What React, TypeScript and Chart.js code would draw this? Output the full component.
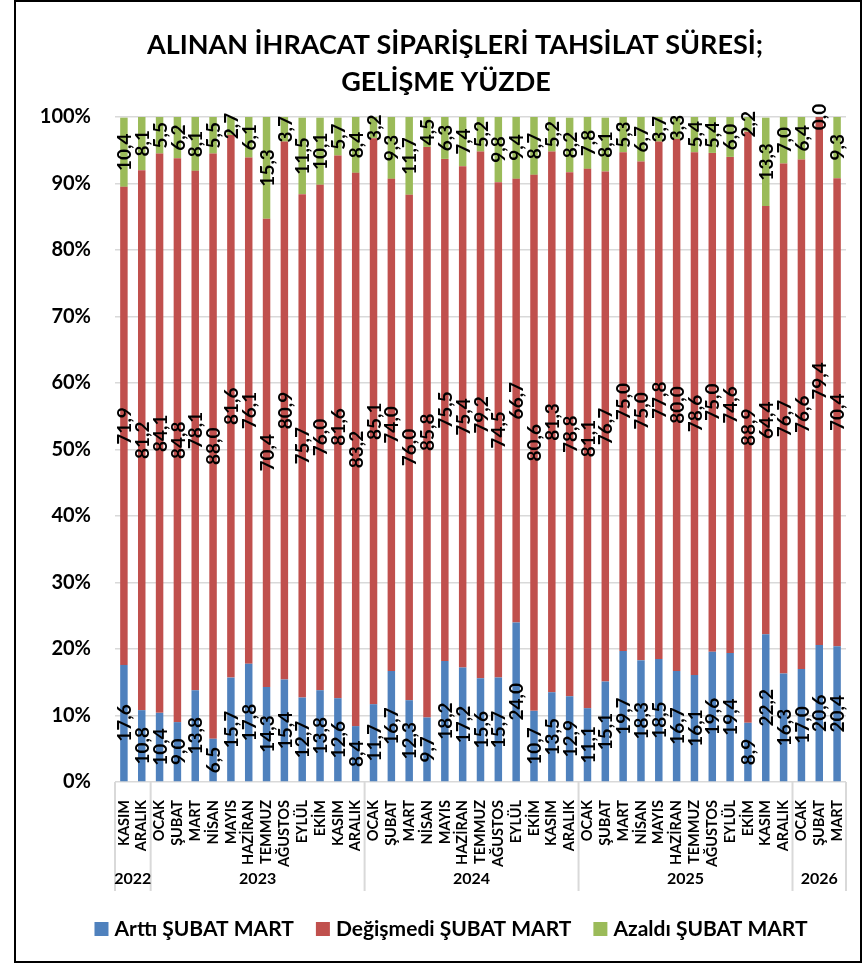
import React, { useEffect, useRef } from "react";
import { Chart, registerables } from "chart.js";

Chart.register(...registerables);

const monthLabels = [
  "KASIM", "ARALIK",
  "OCAK", "ŞUBAT", "MART", "NİSAN", "MAYIS", "HAZİRAN", "TEMMUZ", "AĞUSTOS", "EYLÜL", "EKİM", "KASIM", "ARALIK",
  "OCAK", "ŞUBAT", "MART", "NİSAN", "MAYIS", "HAZİRAN", "TEMMUZ", "AĞUSTOS", "EYLÜL", "EKİM", "KASIM", "ARALIK",
  "OCAK", "ŞUBAT", "MART", "NİSAN", "MAYIS", "HAZİRAN", "TEMMUZ", "AĞUSTOS", "EYLÜL", "EKİM", "KASIM", "ARALIK",
  "OCAK", "ŞUBAT", "MART",
];

const yearLabels = ["2022", "2023", "2024", "2025", "2026"];
const yearCounts = [2, 12, 12, 12, 3];

const arttiValues = [
  17.6, 10.8,
  10.4, 9.0, 13.8, 6.5, 15.7, 17.8, 14.3, 15.4, 12.7, 13.8, 12.6, 8.4,
  11.7, 16.7, 12.3, 9.7, 18.2, 17.2, 15.6, 15.7, 24.0, 10.7, 13.5, 12.9,
  11.1, 15.1, 19.7, 18.3, 18.5, 16.7, 16.1, 19.6, 19.4, 8.9, 22.2, 16.3,
  17.0, 20.6, 20.4,
];

const degismediValues = [
  71.9, 81.2,
  84.1, 84.8, 78.1, 88.0, 81.6, 76.1, 70.4, 80.9, 75.7, 76.0, 81.6, 83.2,
  85.1, 74.0, 76.0, 85.8, 75.5, 75.4, 79.2, 74.5, 66.7, 80.6, 81.3, 78.8,
  81.1, 76.7, 75.0, 75.0, 77.8, 80.0, 78.6, 75.0, 74.6, 88.9, 64.4, 76.7,
  76.6, 79.4, 70.4,
];

const azaldiValues = [
  10.4, 8.1,
  5.5, 6.2, 8.1, 5.5, 2.7, 6.1, 15.3, 3.7, 11.5, 10.1, 5.7, 8.4,
  3.2, 9.3, 11.7, 4.5, 6.3, 7.4, 5.2, 9.8, 9.4, 8.7, 5.2, 8.2,
  7.8, 8.1, 5.3, 6.7, 3.7, 3.3, 5.4, 5.4, 6.0, 2.2, 13.3, 7.0,
  6.4, 0.0, 9.3,
];

const seriesNames = ["Arttı ŞUBAT MART", "Değişmedi ŞUBAT MART", "Azaldı ŞUBAT MART"];
const seriesColors = ["#4F81BD", "#C0504D", "#9BBB59"];
const titleLines = ["ALINAN İHRACAT SİPARİŞLERİ TAHSİLAT SÜRESİ;", "GELİŞME YÜZDE"];

const FONT = "Lato, 'Open Sans', sans-serif";

const overlayPlugin = {
  id: "overlay",
  afterDatasetsDraw(chart: any) {
    const ctx = chart.ctx;
    ctx.save();
    ctx.fillStyle = "#000";
    ctx.font = `bold 19px ${FONT}`;
    ctx.textAlign = "center";
    ctx.textBaseline = "middle";
    chart.data.datasets.forEach((ds: any, i: number) => {
      const meta = chart.getDatasetMeta(i);
      meta.data.forEach((el: any, j: number) => {
        const v = ds.data[j];
        const p = el.getProps(["x", "y", "base"], true);
        const cy = (p.y + p.base) / 2;
        ctx.save();
        ctx.translate(p.x, cy);
        ctx.rotate(-Math.PI / 2);
        ctx.fillText(v.toFixed(1).replace(".", ","), 0, 1);
        ctx.restore();
      });
    });
    ctx.restore();
  },
  afterDraw(chart: any) {
    const ctx = chart.ctx;
    const area = chart.chartArea;
    const xs = chart.scales.x;
    ctx.save();

    // title
    ctx.fillStyle = "#000";
    ctx.textAlign = "center";
    ctx.textBaseline = "alphabetic";
    ctx.font = `bold 27px ${FONT}`;
    ctx.fillText(titleLines[0], 455, 54);
    ctx.fillText(titleLines[1], 446, 91);

    // year groups and separators
    const step = xs.getPixelForValue(1) - xs.getPixelForValue(0);
    const bounds: number[] = [area.left];
    let idx = 0;
    yearCounts.forEach((c) => {
      idx += c;
      bounds.push(idx >= monthLabels.length ? area.right : xs.getPixelForValue(idx) - step / 2);
    });
    ctx.strokeStyle = "#d9d9d9";
    ctx.lineWidth = 2;
    bounds.forEach((b) => {
      ctx.beginPath();
      ctx.moveTo(b, area.bottom);
      ctx.lineTo(b, 891);
      ctx.stroke();
    });
    ctx.font = `bold 16px ${FONT}`;
    ctx.textBaseline = "middle";
    yearLabels.forEach((y, k) => {
      ctx.fillText(y, (bounds[k] + bounds[k + 1]) / 2, 879);
    });

    // legend
    ctx.font = `bold 21px ${FONT}`;
    ctx.textAlign = "left";
    const box = 14;
    const gap = 6;
    const itemGap = 22;
    const widths = seriesNames.map((n) => box + gap + ctx.measureText(n).width);
    const total = widths.reduce((a, b) => a + b, 0) + itemGap * (widths.length - 1);
    let lx = 451 - total / 2;
    seriesNames.forEach((n, k) => {
      ctx.fillStyle = seriesColors[k];
      ctx.fillRect(lx, 922, box, box);
      ctx.fillStyle = "#000";
      ctx.fillText(n, lx + box + gap, 929);
      lx += widths[k] + itemGap;
    });

    // frame
    ctx.strokeStyle = "#000";
    ctx.lineWidth = 2;
    ctx.strokeRect(15, 1, 846, 961);
    ctx.restore();
  },
};

export default function App() {
  const canvasRef = useRef<HTMLCanvasElement>(null);

  useEffect(() => {
    const canvas = canvasRef.current;
    if (!canvas) return;
    const chart = new Chart(canvas, {
      type: "bar",
      data: {
        labels: monthLabels,
        datasets: [
          { label: seriesNames[0], data: arttiValues, backgroundColor: seriesColors[0] },
          { label: seriesNames[1], data: degismediValues, backgroundColor: seriesColors[1] },
          { label: seriesNames[2], data: azaldiValues, backgroundColor: seriesColors[2] },
        ],
      },
      options: {
        responsive: false,
        animation: false,
        devicePixelRatio: 1,
        layout: { padding: { left: 15, top: 117, right: 19, bottom: 0 } },
        datasets: { bar: { barPercentage: 0.42, categoryPercentage: 1 } },
        plugins: {
          legend: { display: false },
          title: { display: false },
          tooltip: { enabled: false },
        },
        scales: {
          x: {
            stacked: true,
            grid: { display: false },
            border: { display: false },
            ticks: {
              autoSkip: false,
              minRotation: 90,
              maxRotation: 90,
              padding: 10,
              color: "#000",
              font: { family: FONT, size: 14.5, weight: "bold" },
            },
            afterFit: (s: any) => {
              s.height = 183;
            },
          },
          y: {
            stacked: true,
            min: 0,
            max: 100,
            grid: { color: "#d9d9d9", lineWidth: 1.5, drawTicks: false },
            border: { display: false },
            ticks: {
              stepSize: 10,
              padding: 24,
              color: "#000",
              font: { family: FONT, size: 20, weight: "bold" },
              callback: (v: any) => `${v}%`,
            },
            afterFit: (s: any) => {
              s.width = 100;
            },
          },
        },
      },
      plugins: [overlayPlugin],
    });
    return () => chart.destroy();
  }, []);

  return (
    <div style={{ position: "fixed", left: 0, top: 0, width: 865, height: 965, background: "#fff" }}>
      <canvas ref={canvasRef} width={865} height={965} style={{ display: "block" }} />
    </div>
  );
}
